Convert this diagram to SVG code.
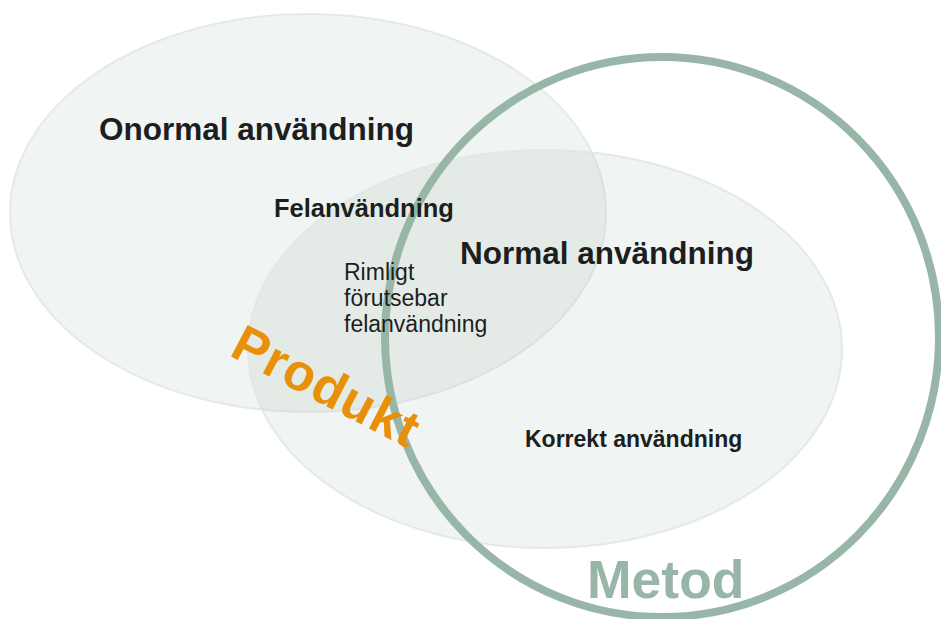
<svg xmlns="http://www.w3.org/2000/svg" width="941" height="619" viewBox="0 0 941 619">
<style>
.set{fill:rgb(180,200,190);fill-opacity:0.2;stroke:#dfe6e2;stroke-opacity:0.8;stroke-width:2}
.lbl{font-family:"Liberation Sans",Arial,sans-serif;font-weight:bold;fill:#1d1e20}
.reg{font-family:"Liberation Sans",Arial,sans-serif;font-size:23px;fill:#1d1e20}
</style>
<rect width="941" height="619" fill="#ffffff"/>
<g id="onormal">
<ellipse class="set" cx="308" cy="213" rx="298" ry="199"/>
<text class="lbl" x="99" y="140" font-size="31.5">Onormal användning</text>
</g>
<g id="normal">
<ellipse class="set" cx="545" cy="349" rx="297" ry="199"/>
<text class="lbl" x="460" y="264" font-size="31.5">Normal användning</text>
</g>
<g id="metod">
<ellipse cx="662" cy="337" rx="277" ry="280" fill="none" stroke="#98b6a8" stroke-width="8"/>
<text x="587" y="598" font-family="Liberation Sans,Arial,sans-serif" font-weight="bold" font-size="53.5" fill="#98b6a8">Metod</text>
</g>
<g id="felanvandning">
<text class="lbl" x="274" y="217" font-size="25.5">Felanvändning</text>
</g>
<g id="rimligt">
<text class="reg" x="344" y="280">Rimligt</text>
<text class="reg" x="344" y="306">förutsebar</text>
<text class="reg" x="344" y="332">felanvändning</text>
</g>
<g id="korrekt">
<text class="lbl" x="525" y="447" font-size="23">Korrekt användning</text>
</g>
<g id="produkt">
<text x="0" y="0" transform="translate(228,355) rotate(27.5)" font-family="Liberation Sans,Arial,sans-serif" font-weight="bold" font-size="52" letter-spacing="1" fill="#e8900a">Produkt</text>
</g>
<g id="connectors"/>
</svg>
